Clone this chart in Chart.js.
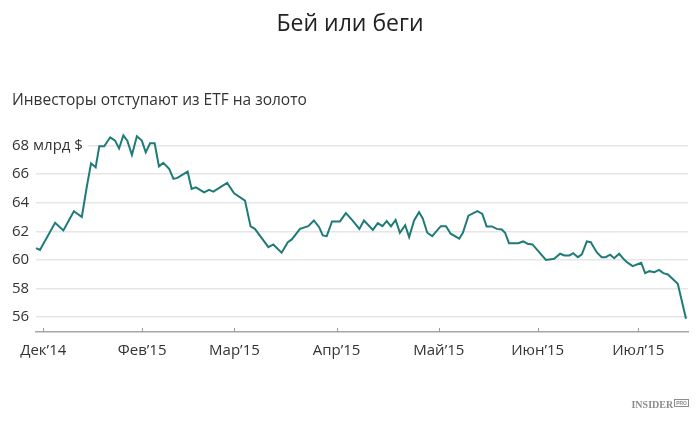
<!DOCTYPE html>
<html lang="ru">
<head>
<meta charset="utf-8">
<title>Бей или беги</title>
<script src="https://cdn.jsdelivr.net/npm/chart.js@4/dist/chart.umd.min.js"></script>
<style>
    html, body { margin: 0; padding: 0; background: #fff; }
    .wrap { position: relative; width: 700px; height: 421px; }
    #goldChart { display: block; }
    .logo {
        position: absolute;
        right: 11px;
        top: 399px;
        font-family: "Liberation Serif", "DejaVu Serif", serif;
        font-weight: bold;
        font-size: 10px;
        color: #8c8c8c;
    }
    .logo span {
        display: inline-block;
        font-family: "Liberation Sans", sans-serif;
        font-size: 5px;
        line-height: 6px;
        border: 1px solid #8c8c8c;
        padding: 0 1px;
        vertical-align: 3px;
        margin-left: 1px;
    }
</style>
</head>
<body>
<div class="wrap">
    <canvas id="goldChart" width="700" height="421"></canvas>
    <div class="logo">INSIDER<span>PRO</span></div>
</div>
<script>
// Gold ETF holdings, bn $ (days counted from 1 Jan 2015)
const days = [
    -2.2, -1.0, 3.6, 6.1, 9.3, 11.7, 13.2, 14.5, 15.9, 17.0,
    18.5, 20.3, 21.8, 23.0, 24.3, 25.5, 26.9, 28.4, 29.9, 31.1,
    32.4, 33.8, 35.1, 36.4, 38.2, 39.5, 40.7, 43.8, 45.0, 46.3,
    48.8, 50.3, 51.6, 55.8, 57.9, 61.2, 62.9, 64.2, 68.3, 69.8,
    72.3, 74.2, 75.4, 77.9, 80.4, 82.1, 83.7, 84.8, 86.0, 87.6,
    90.0, 91.8, 93.8, 95.9, 97.3, 100.0, 101.5, 102.9, 104.2, 105.5,
    106.9, 108.2, 109.8, 111.0, 112.5, 114.0, 115.1, 116.5, 118.0, 120.6,
    122.2, 123.6, 126.2, 127.3, 129.0, 131.7, 133.2, 134.5, 136.1, 137.6,
    139.1, 140.1, 141.3, 144.1, 145.6, 146.9, 148.4, 152.5, 155.0, 156.8,
    158.1, 159.6, 160.8, 162.2, 163.4, 164.9, 166.1, 167.9, 169.4, 170.6,
    172.0, 173.2, 174.7, 176.3, 177.5, 178.8, 181.4, 182.6, 183.9, 185.4,
    186.8, 188.1, 189.5, 192.5, 195.0
];
const holdings = [
    60.82, 60.70, 62.60, 62.06, 63.40, 63.00, 65.10, 66.76, 66.48, 67.95,
    67.95, 68.58, 68.35, 67.80, 68.72, 68.35, 67.35, 68.65, 68.35, 67.53,
    68.16, 68.16, 66.55, 66.79, 66.37, 65.67, 65.74, 66.18, 64.97, 65.08,
    64.73, 64.90, 64.78, 65.39, 64.66, 64.15, 62.34, 62.17, 60.89, 61.08,
    60.50, 61.24, 61.43, 62.17, 62.36, 62.76, 62.29, 61.71, 61.66, 62.69,
    62.69, 63.27, 62.76, 62.17, 62.76, 62.10, 62.57, 62.36, 62.71, 62.34,
    62.80, 61.90, 62.43, 61.59, 62.76, 63.34, 62.92, 61.90, 61.66, 62.36,
    62.36, 61.83, 61.48, 61.90, 63.10, 63.41, 63.22, 62.34, 62.34, 62.17,
    62.13, 61.90, 61.17, 61.17, 61.29, 61.13, 61.08, 60.00, 60.08, 60.43,
    60.31, 60.31, 60.47, 60.19, 60.38, 61.29, 61.24, 60.54, 60.19, 60.19,
    60.36, 60.12, 60.43, 60.00, 59.77, 59.56, 59.80, 59.07, 59.21, 59.14,
    59.30, 59.07, 58.98, 58.33, 55.88
];

// Axis ticks
const xTickValues = [0, 30, 58, 89, 120, 150, 180.5];
const xTickLabels = ['Дек\u201914', 'Фев\u201915', 'Мар\u201915', 'Апр\u201915', 'Май\u201915', 'Июн\u201915', 'Июл\u201915'];
const yTickValues = [56, 58, 60, 62, 64, 66, 68];

const FONT = '"Open Sans", "Noto Sans", sans-serif';

// small tick marks standing on the x axis line
const axisTicks = {
    id: 'axisTicks',
    afterDraw(chart) {
        const xs = chart.scales.x;
        const ctx = chart.ctx;
        ctx.save();
        ctx.strokeStyle = '#9a9a9a';
        ctx.lineWidth = 1;
        ctx.beginPath();
        xs.ticks.forEach(t => {
            const px = Math.round(xs.getPixelForValue(t.value)) + 0.5;
            ctx.moveTo(px, xs.top);
            ctx.lineTo(px, xs.top - 4);
        });
        ctx.stroke();
        ctx.restore();
    }
};

const ctx = document.getElementById('goldChart').getContext('2d');
new Chart(ctx, {
    type: 'line',
    data: {
        datasets: [{
            data: days.map((d, i) => ({ x: d, y: holdings[i] })),
            borderColor: '#1f7b78',
            borderWidth: 2,
            pointRadius: 0,
            tension: 0,
            fill: false,
            clip: false
        }]
    },
    options: {
        responsive: false,
        animation: false,
        layout: { padding: { left: 12, right: 12, top: 0, bottom: 51 } },
        plugins: {
            legend: { display: false },
            tooltip: { enabled: false },
            title: {
                display: true,
                text: 'Бей или беги',
                color: '#222',
                font: { family: FONT, size: 23, weight: 'normal' },
                padding: { top: 11, bottom: 52.8 }
            },
            subtitle: {
                display: true,
                text: 'Инвесторы отступают из ETF на золото',
                align: 'start',
                color: '#333',
                font: { family: FONT, size: 15.5, weight: 'normal' },
                padding: { top: 0, bottom: 35.6 }
            }
        },
        scales: {
            x: {
                type: 'linear',
                min: -2.2,
                max: 195.6,
                grid: { display: false, drawTicks: false },
                border: { display: true, color: '#a6a6a6', width: 1.5 },
                afterBuildTicks: scale => {
                    scale.ticks = xTickValues.map(v => ({ value: v }));
                },
                ticks: {
                    autoSkip: false,
                    maxRotation: 0,
                    padding: 10,
                    color: '#333',
                    font: { family: FONT, size: 15 },
                    callback: (value, index) => xTickLabels[index]
                }
            },
            y: {
                min: 54.95,
                max: 68,
                afterBuildTicks: scale => {
                    scale.ticks = yTickValues.map(v => ({ value: v }));
                },
                afterFit: scale => { scale.width = 24; },
                grid: { color: '#e6e6e6', lineWidth: 1.5, drawTicks: false },
                border: { display: false },
                ticks: {
                    // mirrored labels are not clipped, pull them back to the left edge
                    mirror: true,
                    padding: -24,
                    color: '#333',
                    font: { family: FONT, size: 15 },
                    showLabelBackdrop: true,
                    backdropColor: '#fff',
                    backdropPadding: { left: 0, right: 5, top: 0, bottom: 0 },
                    callback: value => value === 68 ? '68 млрд $' : String(value)
                }
            }
        }
    },
    plugins: [axisTicks]
});
</script>
</body>
</html>
